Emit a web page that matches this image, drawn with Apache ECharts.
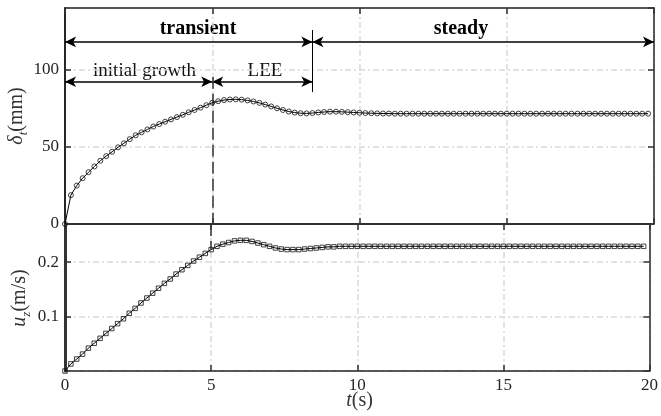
<!DOCTYPE html>
<html>
<head>
<meta charset="utf-8">
<script src="https://cdn.jsdelivr.net/npm/echarts@6/dist/echarts.min.js"></script>
<style>
  html, body { margin: 0; padding: 0; background: #fff; }
  #c { width: 661px; height: 416px; }
</style>
</head>
<body>
<div id="c"></div>
<script>
// Sample times (s)
const times = [
  0, 0.2, 0.4, 0.6, 0.8, 1.0, 1.2, 1.4, 1.6, 1.8,
  2.0, 2.2, 2.4, 2.6, 2.8, 3.0, 3.2, 3.4, 3.6, 3.8,
  4.0, 4.2, 4.4, 4.6, 4.8, 5.0, 5.2, 5.4, 5.6, 5.8,
  6.0, 6.2, 6.4, 6.6, 6.8, 7.0, 7.2, 7.4, 7.6, 7.8,
  8.0, 8.2, 8.4, 8.6, 8.8, 9.0, 9.2, 9.4, 9.6, 9.8,
  10.0, 10.2, 10.4, 10.6, 10.8, 11.0, 11.2, 11.4, 11.6, 11.8,
  12.0, 12.2, 12.4, 12.6, 12.8, 13.0, 13.2, 13.4, 13.6, 13.8,
  14.0, 14.2, 14.4, 14.6, 14.8, 15.0, 15.2, 15.4, 15.6, 15.8,
  16.0, 16.2, 16.4, 16.6, 16.8, 17.0, 17.2, 17.4, 17.6, 17.8,
  18.0, 18.2, 18.4, 18.6, 18.8, 19.0, 19.2, 19.4, 19.6, 19.8
];

// Plume thickness delta_t (mm)
const deltaT = [
  0, 18.7, 24.9, 29.7, 33.6, 37.3, 41.0, 44.0, 46.8, 49.7,
  52.3, 55.0, 57.5, 59.4, 61.3, 63.2, 64.8, 66.3, 67.8, 69.3,
  70.8, 72.4, 73.9, 75.4, 77.0, 78.6, 79.6, 80.3, 80.7, 80.8,
  80.6, 80.1, 79.4, 78.5, 77.4, 76.2, 75.0, 73.9, 72.9, 72.2,
  71.8, 71.7, 71.9, 72.3, 72.6, 72.8, 72.8, 72.7, 72.5, 72.3,
  72.1, 71.9, 71.8, 71.7, 71.6, 71.6, 71.5, 71.5, 71.5, 71.5,
  71.5, 71.5, 71.5, 71.5, 71.5, 71.5, 71.5, 71.5, 71.5, 71.5,
  71.5, 71.5, 71.5, 71.5, 71.5, 71.5, 71.5, 71.5, 71.5, 71.5,
  71.5, 71.5, 71.5, 71.5, 71.5, 71.5, 71.5, 71.5, 71.5, 71.5,
  71.5, 71.5, 71.5, 71.5, 71.5, 71.5, 71.5, 71.5, 71.5, 71.5
];

// Vertical velocity u_z (m/s)
const uz = [
  0, 0.013, 0.022, 0.031, 0.042, 0.051, 0.060, 0.069, 0.078, 0.087,
  0.096, 0.106, 0.115, 0.125, 0.134, 0.143, 0.152, 0.161, 0.169, 0.178,
  0.186, 0.194, 0.202, 0.209, 0.216, 0.223, 0.229, 0.233, 0.236, 0.239,
  0.240, 0.240, 0.238, 0.235, 0.232, 0.229, 0.226, 0.224, 0.223, 0.223,
  0.223, 0.224, 0.225, 0.226, 0.227, 0.228, 0.228, 0.229, 0.229, 0.229,
  0.229, 0.229, 0.229, 0.229, 0.229, 0.229, 0.229, 0.229, 0.229, 0.229,
  0.229, 0.229, 0.229, 0.229, 0.229, 0.229, 0.229, 0.229, 0.229, 0.229,
  0.229, 0.229, 0.229, 0.229, 0.229, 0.229, 0.229, 0.229, 0.229, 0.229,
  0.229, 0.229, 0.229, 0.229, 0.229, 0.229, 0.229, 0.229, 0.229, 0.229,
  0.229, 0.229, 0.229, 0.229, 0.229, 0.229, 0.229, 0.229, 0.229, 0.229
];

// Phase boundaries (s): start, end of initial growth, end of transient, end
const phaseTimes = [0, 5, 8.4, 20];
// Heights (mm) of the phase arrows and their separators
const phaseArrowLevels = [118, 92.2];
const separatorSpan = [125.7, 85.5];
const leeMarkTop = 95.5;

const FONT = '"Liberation Serif", "Times New Roman", serif';
const INK = '#262626';

const gridLine = { show: true, lineStyle: { color: '#d9d9d9', width: 1.5, type: [6, 3, 2, 3] } };
const tick = { show: true, inside: true, length: 6, lineStyle: { color: '#333', width: 1.5 } };

function xAx(gridIndex, position, opts) {
  return Object.assign({
    type: 'value', gridIndex, position, min: 0, max: 20, interval: 5,
    axisLine: { show: true, onZero: false, lineStyle: { color: INK, width: 1.5 } },
    axisTick: tick,
    axisLabel: { show: false },
    splitLine: { show: false }
  }, opts || {});
}
function yAx(gridIndex, position, min, max, interval, opts) {
  return Object.assign({
    type: 'value', gridIndex, position, min, max, interval,
    axisLine: { show: true, onZero: false, lineStyle: { color: INK, width: 1.5 } },
    axisTick: tick,
    axisLabel: { show: false },
    splitLine: { show: false }
  }, opts || {});
}

const labelStyle = { show: true, color: INK, fontFamily: FONT, fontSize: 17 };

const arrowLine = { color: '#000', width: 1.5, type: 'solid' };
const [t0, t1, t2, t3] = phaseTimes;
const [yTop, yLow] = phaseArrowLevels;

const option = {
  animation: false,
  backgroundColor: '#fff',
  grid: [
    { left: 65, right: 7, top: 8, height: 216 },
    { left: 65, right: 7, top: 224, height: 147 }
  ],
  xAxis: [
    xAx(0, 'bottom', { splitLine: gridLine }),
    xAx(0, 'top'),
    xAx(1, 'bottom', { splitLine: gridLine, axisLabel: Object.assign({ margin: 6 }, labelStyle) }),
    xAx(1, 'top')
  ],
  yAxis: [
    yAx(0, 'left', 0, 140, 50, {
      splitLine: gridLine,
      axisLine: { show: true, onZero: false, lineStyle: { color: INK, width: 2 } },
      axisLabel: Object.assign({ margin: 6, showMaxLabel: false }, labelStyle)
    }),
    yAx(0, 'right', 0, 140, 50),
    yAx(1, 'left', 0, 0.27, 0.1, {
      splitLine: gridLine,
      axisLine: { show: true, onZero: false, lineStyle: { color: '#333', width: 3 } },
      axisLabel: Object.assign({ margin: 6, showMaxLabel: false, showMinLabel: false }, labelStyle)
    }),
    yAx(1, 'right', 0, 0.27, 0.1)
  ],
  series: [
    {
      type: 'line', xAxisIndex: 0, yAxisIndex: 0,
      data: times.map((t, i) => [t, deltaT[i]]),
      symbol: 'circle', symbolSize: 5, showAllSymbol: true,
      lineStyle: { color: '#000', width: 1 },
      itemStyle: { color: 'rgba(0,0,0,0)', borderColor: '#111', borderWidth: 0.8 },
      z: 5,
      markLine: {
        silent: true, animation: false,
        symbol: ['arrow', 'arrow'], symbolSize: [8, 11],
        label: { show: false },
        lineStyle: arrowLine,
        data: [
          [{ coord: [t0, yTop] }, { coord: [t2, yTop] }],
          [{ coord: [t2, yTop] }, { coord: [t3, yTop] }],
          [{ coord: [t0, yLow] }, { coord: [t1, yLow] }],
          [{ coord: [t1, yLow] }, { coord: [t2, yLow] }],
          [{ coord: [t2, separatorSpan[0]], symbol: 'none', lineStyle: { color: '#000', width: 1, type: 'solid' } },
           { coord: [t2, separatorSpan[1]], symbol: 'none' }],
          [{ coord: [t1, leeMarkTop], symbol: 'none', lineStyle: { color: '#333', width: 1.5, type: [12, 5] } },
           { coord: [t1, 0], symbol: 'none' }]
        ]
      }
    },
    {
      type: 'line', xAxisIndex: 2, yAxisIndex: 2,
      data: times.map((t, i) => [t, uz[i]]),
      symbol: 'rect', symbolSize: 4.5, showAllSymbol: true,
      lineStyle: { color: '#000', width: 1 },
      itemStyle: { color: 'rgba(0,0,0,0)', borderColor: '#111', borderWidth: 0.8 },
      z: 5,
      markLine: {
        silent: true, animation: false, symbol: ['none', 'none'],
        label: { show: false },
        data: [
          [{ coord: [t1, 0.27], lineStyle: { color: '#333', width: 1.5, type: [12, 5] } },
           { coord: [t1, uz[times.indexOf(t1)]] }]
        ]
      }
    }
  ],
  graphic: [
    { type: 'text', x: 198, y: 29, style: { text: 'transient', font: 'bold 20px ' + FONT, fill: '#000', align: 'center', verticalAlign: 'middle' } },
    { type: 'text', x: 461, y: 29, style: { text: 'steady', font: 'bold 20px ' + FONT, fill: '#000', align: 'center', verticalAlign: 'middle' } },
    { type: 'text', x: 144.5, y: 71, style: { text: 'initial growth', font: '19px ' + FONT, fill: '#111', align: 'center', verticalAlign: 'middle' } },
    { type: 'text', x: 265, y: 71, style: { text: 'LEE', font: '19px ' + FONT, fill: '#111', align: 'center', verticalAlign: 'middle' } },
    {
      type: 'text', x: 17, y: 116, rotation: Math.PI / 2,
      style: {
        text: '{i|δ}{s|t}{n|(mm)}', align: 'center', verticalAlign: 'middle', fill: '#333',
        rich: {
          i: { fontFamily: FONT, fontStyle: 'italic', fontSize: 20, lineHeight: 26, fill: '#333' },
          s: { fontFamily: FONT, fontStyle: 'italic', fontSize: 13, lineHeight: 13, verticalAlign: 'bottom', fill: '#333' },
          n: { fontFamily: FONT, fontSize: 20, lineHeight: 26, fill: '#333' }
        }
      }
    },
    {
      type: 'text', x: 20, y: 298, rotation: Math.PI / 2,
      style: {
        text: '{i|u}{s|z}{n|(m/s)}', align: 'center', verticalAlign: 'middle', fill: '#333',
        rich: {
          i: { fontFamily: FONT, fontStyle: 'italic', fontSize: 20, lineHeight: 26, fill: '#333' },
          s: { fontFamily: FONT, fontStyle: 'italic', fontSize: 13, lineHeight: 13, verticalAlign: 'bottom', fill: '#333' },
          n: { fontFamily: FONT, fontSize: 20, lineHeight: 26, fill: '#333' }
        }
      }
    },
    {
      type: 'text', x: 359.5, y: 401,
      style: {
        text: '{i|t}{n|(s)}', align: 'center', verticalAlign: 'middle', fill: '#333',
        rich: {
          i: { fontFamily: FONT, fontStyle: 'italic', fontSize: 20, fill: '#333' },
          n: { fontFamily: FONT, fontSize: 20, fill: '#333' }
        }
      }
    }
  ]
};

const chart = echarts.init(document.getElementById('c'), null, { renderer: 'canvas' });
chart.setOption(option);
</script>
</body>
</html>
